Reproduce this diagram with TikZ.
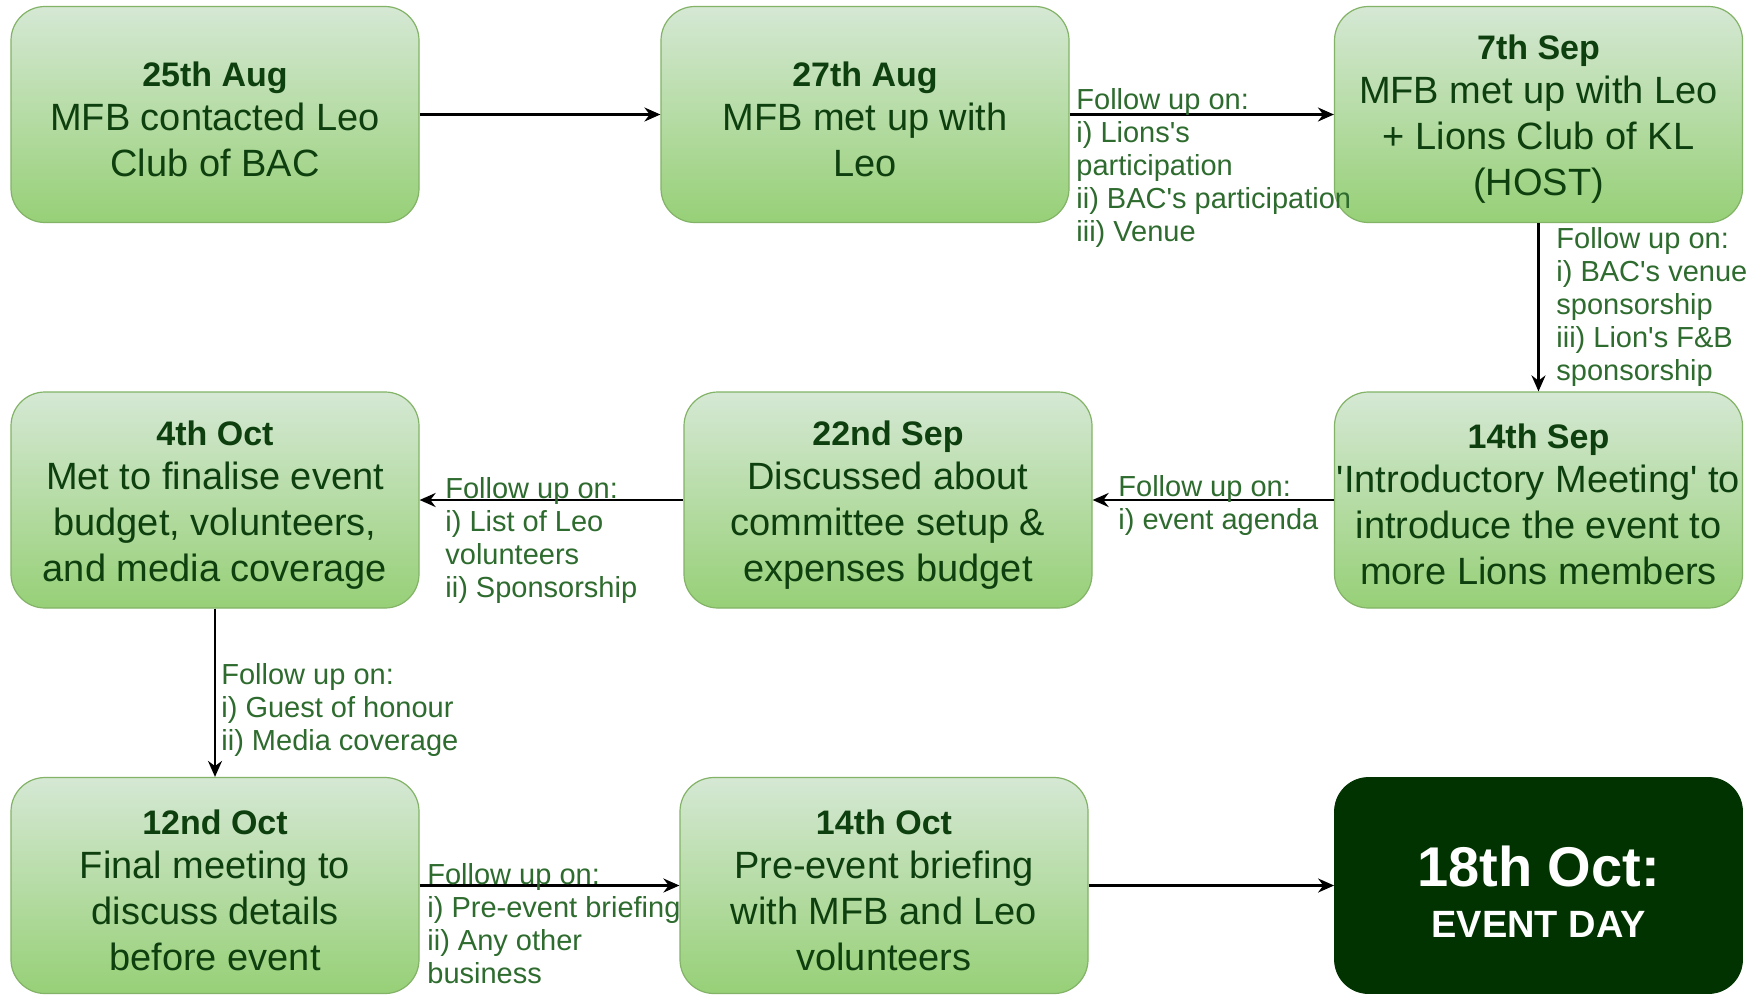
\documentclass[tikz,border=0pt]{standalone}
\usepackage{fontspec}
\newfontfamily\diagfont{Liberation Sans}
\usetikzlibrary{arrows.meta}

\definecolor{boxtop}{HTML}{D5E8D4}
\definecolor{boxbottom}{HTML}{97D077}
\definecolor{boxline}{HTML}{82B366}
\definecolor{boxtext}{HTML}{0E3F0E}
\definecolor{notetext}{HTML}{2E6B2E}
\definecolor{eventfill}{HTML}{003300}

\tikzset{
  stage/.style={rounded corners=17pt, draw=boxline, line width=0.6pt, top color=boxtop, bottom color=boxbottom,
    minimum width=204pt, minimum height=108pt, inner sep=0pt, align=center, text=boxtext,
    font=\diagfont\fontsize{19}{23}\selectfont},
  eventday/.style={rounded corners=17pt, draw=eventfill, fill=eventfill, minimum width=204pt, minimum height=108pt,
    inner sep=0pt, align=center, text=white, font=\diagfont\bfseries\fontsize{19}{25.5}\selectfont},
  note/.style={anchor=north west, inner sep=0pt, align=left, text=notetext,
    font=\diagfont\fontsize{14.5}{16.5}\selectfont},
  flow/.style={line width=1.2pt, -{Stealth[length=8pt,width=7pt]}}
}
\newcommand{\datehead}[1]{{\fontsize{17}{20}\selectfont\bfseries\rule{0pt}{17pt}#1}\\[-1pt]}

\begin{document}
\begin{tikzpicture}[x=0.5pt,y=0.5pt,yscale=-1]
\useasboundingbox[fill=white] (0,0) rectangle (1761,996);

%Shape: Rounded Rect (row 1)
\node[stage] (aug25) at (215,114.5) {\datehead{25th Aug}MFB contacted Leo\\Club of BAC};
\node[stage] (aug27) at (865,114.5) {\datehead{27th Aug}MFB met up with\\Leo};
\node[stage] (sep7) at (1538.5,114.5) {\datehead{7th Sep}MFB met up with Leo\\+ Lions Club of KL\\(HOST)};
%Shape: Rounded Rect (row 2)
\node[stage] (oct4) at (215,500) {\datehead{4th Oct}Met to finalise event\\budget, volunteers,\\and media coverage};
\node[stage] (sep22) at (888,500) {\datehead{22nd Sep}Discussed about\\committee setup \&\\expenses budget};
\node[stage] (sep14) at (1538.5,500) {\datehead{14th Sep}'Introductory Meeting' to\\introduce the event to\\more Lions members};
%Shape: Rounded Rect (row 3)
\node[stage] (oct12) at (215,885.5) {\datehead{12nd Oct}Final meeting to\\discuss details\\before event};
\node[stage] (oct14) at (884,885.5) {\datehead{14th Oct}Pre-event briefing\\with MFB and Leo\\volunteers};
\node[eventday] (oct18) at (1538.5,885.5) {{\fontsize{28}{30}\selectfont\rule{0pt}{26pt}18th Oct:}\\EVENT DAY};

%Straight Lines
\draw[flow] (aug25) -- (aug27);
\draw[flow] (aug27) -- (sep7);
\draw[flow] (sep7) -- (sep14);
\draw[flow] (sep14) -- (sep22);
\draw[flow] (sep22) -- (oct4);
\draw[flow] (oct4) -- (oct12);
\draw[flow] (oct12) -- (oct14);
\draw[flow] (oct14) -- (oct18);

%Text labels
\node[note] (noteA) at (1076,88) {Follow up on:\\i) Lions's\\participation\\ii) BAC's participation\\iii) Venue};
\node[note] (noteB) at (1556,227) {Follow up on:\\i) BAC's venue\\sponsorship\\iii) Lion's F\&B\\sponsorship};
\node[note] (noteC) at (1118,475) {Follow up on:\\i) event agenda};
\node[note] (noteD) at (445,477) {Follow up on:\\i) List of Leo\\volunteers\\ii) Sponsorship};
\node[note] (noteE) at (221,663) {Follow up on:\\i) Guest of honour\\ii) Media coverage};
\node[note] (noteF) at (427,863) {Follow up on:\\i) Pre-event briefing\\ii) Any other\\business};

\end{tikzpicture}
\end{document}
